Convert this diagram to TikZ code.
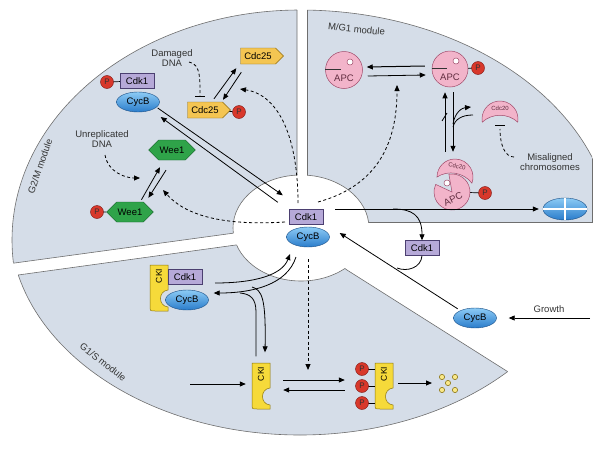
\documentclass[tikz,border=0pt]{standalone}
\usepackage{fontspec}
\setmainfont{Liberation Sans}
\usetikzlibrary{shapes.geometric,shapes.symbols,arrows.meta,calc}
\definecolor{modf}{HTML}{D5DDE8}
\definecolor{modl}{HTML}{6E6E6E}
\definecolor{cdkf}{HTML}{B6A9D8}
\definecolor{cdkl}{HTML}{4B3F70}
\definecolor{cycA}{HTML}{8CCBF5}
\definecolor{cycB}{HTML}{2A7CCB}
\definecolor{cycl}{HTML}{1B4F86}
\definecolor{pf}{HTML}{D8382B}
\definecolor{pl}{HTML}{7A1410}
\definecolor{c25f}{HTML}{F4C552}
\definecolor{c25l}{HTML}{8C6A14}
\definecolor{weef}{HTML}{2FA349}
\definecolor{weel}{HTML}{0F5A22}
\definecolor{apcf}{HTML}{F2B4CA}
\definecolor{apcl}{HTML}{A04A6A}
\definecolor{ckif}{HTML}{F6DA3A}
\definecolor{ckil}{HTML}{8A7410}
\begin{document}
\begin{tikzpicture}[x=1pt,y=-1pt,
  modfill/.style={fill=modf},
  modline/.style={draw=modl,line width=0.6pt},
  lab/.style={font=\fontsize{9.5}{10.5}\selectfont,text=black!80,inner sep=1pt},
  cdk/.style={draw=cdkl,fill=cdkf,minimum width=34pt,minimum height=15pt,inner sep=0pt,font=\fontsize{9.5}{10}\selectfont},
  cyc/.style={ellipse,draw=cycl,top color=cycA,bottom color=cycB,minimum width=43pt,minimum height=20pt,inner sep=0pt,font=\fontsize{9.5}{10}\selectfont},
  P/.style={circle,draw=pl,fill=pf,minimum size=13pt,inner sep=0pt,font=\fontsize{8}{8}\selectfont,text=black!80},
  c25/.style={signal,signal to=east,signal from=nowhere,draw=c25l,fill=c25f,minimum width=43pt,minimum height=16pt,inner sep=1pt,font=\fontsize{9.5}{10}\selectfont},
  wee/.style={signal,signal to=east and west,draw=weel,fill=weef,minimum width=40pt,minimum height=20pt,inner sep=1pt,font=\fontsize{9.5}{10}\selectfont},
  apc/.style={draw=apcl,fill=apcf,line width=0.5pt},
  cki/.style={draw=ckil,fill=ckif,line width=0.5pt},
  arr/.style={-{Triangle[length=6pt,width=5pt]},line width=0.8pt},
  plain/.style={line width=0.8pt},
  darr/.style={-{Triangle[length=6pt,width=5pt]},line width=0.8pt,dash pattern=on 3pt off 2.5pt},
  dsh/.style={line width=0.8pt,dash pattern=on 3pt off 2.5pt},
  ckipic/.pic={
    \filldraw[cki] (-9,-23) -- (9,-23) -- (9,2) .. controls (-1,3) and (-1,18) .. (9,19) -- (9,23) -- (-4,23) .. controls (-9,23) .. (-9,18) -- cycle;
    \node[rotate=90,font=\fontsize{8.5}{9}\selectfont,inner sep=0pt] at (0,-12) {CKI};
  }]
\useasboundingbox (0,0) rectangle (600,450);
% ---------- modules
\begin{scope}
  \clip (0,0) -- (297,0) -- (297,224.5) -- (0,265) -- cycle;
  \fill[modfill] (300,240) ellipse [x radius=288pt,y radius=230pt];
  \draw[modline] (300,240) ellipse [x radius=288pt,y radius=230pt];
\end{scope}
\begin{scope}
  \clip (300,240) ellipse [x radius=288pt,y radius=230pt];
  \draw[modline] (297,0) -- (297,224.5) -- (0,265);
\end{scope}
\begin{scope}
  \clip (307,0) -- (592,0) -- (592,222) -- (307,222) -- cycle;
  \fill[modfill] (300,240) ellipse [x radius=313pt,y radius=230pt];
  \draw[modline] (300,240) ellipse [x radius=313pt,y radius=230pt];
\end{scope}
\begin{scope}
  \clip (300,240) ellipse [x radius=313pt,y radius=230pt];
  \draw[modline] (307,0) -- (307,222) -- (592,222) -- (592,0);
\end{scope}
\begin{scope}
  \clip (0,277.5) -- (301,236) -- (347,270) -- (600,430) -- (600,450) -- (0,450) -- cycle;
  \fill[modfill] (300,225) ellipse [x radius=290pt,y radius=210pt];
  \draw[modline] (300,225) ellipse [x radius=290pt,y radius=210pt];
\end{scope}
\begin{scope}
  \clip (300,225) ellipse [x radius=290pt,y radius=210pt];
  \draw[modline] (0,277.5) -- (301,236) -- (347,270) -- (600,430);
\end{scope}
\fill[white] (301,228) ellipse [x radius=68pt,y radius=53pt];
\begin{scope}
  \clip (0,0) -- (297,0) -- (297,224.5) -- (0,265) -- cycle;
  \draw[modline] (301,228) ellipse [x radius=68pt,y radius=53pt];
\end{scope}
\begin{scope}
  \clip (307,0) -- (592,0) -- (592,222) -- (307,222) -- cycle;
  \draw[modline] (301,228) ellipse [x radius=68pt,y radius=53pt];
\end{scope}
\begin{scope}
  \clip (0,277.5) -- (301,236) -- (347,270) -- (600,430) -- (600,450) -- (0,450) -- cycle;
  \draw[modline] (301,228) ellipse [x radius=68pt,y radius=53pt];
\end{scope}
% module labels
\node[lab,rotate=71] (g2mlab) at (40,166) {G2/M module};
\node[lab,rotate=-6,anchor=west] (mg1lab) at (327,26) {M/G1 module};
\node[lab,rotate=-38] (g1slab) at (103,362) {G1/S module};
% ---------- centre
\node[cdk] (ck) at (306,217) {Cdk1};
\node[cyc] (cc) at (308,237) {CycB};
% ---------- G2/M
\node[cdk] (gk) at (137,81) {Cdk1};
\node[cyc] (gc) at (138,102) {CycB};
\node[P] (gp) at (107,82) {P};
\draw[line width=0.7pt] (gp) -- (gk);
\node[lab,align=center] (dd) at (172,58) {Damaged\\DNA};
\node[c25] (c25a) at (258,56) {Cdc25};
\node[c25] (c25b) at (205,110) {Cdc25};
\node[P] (c25p) at (239,112) {P};
\draw[line width=0.7pt] (c25b) -- (c25p);
\coordinate (ddbar) at (200,96);
\draw[dsh] (189,62) .. controls (201,64) and (200,80) .. (ddbar);
\draw[line width=0.8pt] ($(ddbar)+(-5,0)$) -- ($(ddbar)+(5,0)$);
\draw[arr] ($(c25b.north)+(9,-3)$) -- ($(c25a.south west)+(-4,4)$);
\draw[arr] ($(c25a.south west)+(1,8)$) -- ($(c25b.north)+(18,-2)$);
\draw[darr] (298,203) .. controls (298,140) and (280,95) .. (240,89);
\draw[arr] ($(gc.east)+(-2,6)$) -- ($(ck.north west)+(-6,-14)$);
\draw[arr] ($(ck.north west)+(-11,-7)$) -- ($(gc.east)+(1,15)$);
\node[lab,align=center] (ud) at (102,139) {Unreplicated\\DNA};
\node[wee] (w1) at (172,150) {Wee1};
\node[wee] (w2) at (130,212) {Wee1};
\node[P] (wp) at (97,212) {P};
\draw[line width=0.7pt] (wp) -- (w2);
\draw[darr] (105,155) .. controls (108,172) and (125,178) .. (140,178);
\draw[arr] ($(w2.north east)+(-2,-2)$) -- ($(w1.south)+(-12,7)$);
\draw[arr] ($(w1.south)+(-6,10)$) -- ($(w2.north east)+(5,-4)$);
\draw[darr] (285,222) .. controls (222,226) and (185,215) .. (163,190);
% ---------- M/G1
\node[circle,apc,minimum size=37pt,inner sep=0pt] (apc1) at (344,70) {};
\node[circle,apc,minimum size=36pt,inner sep=0pt] (apc2) at (450,69) {};
\foreach \a in {apc1,apc2}{
  \draw[fill=white,draw=apcl,line width=0.5pt] ($(\a)+(6,-8)$) circle (3);
  \draw[line width=0.9pt,black!80] ($(\a.west)+(0,-1)$) -- ($(\a)+(-3,-1)$);
  \node[font=\fontsize{9.5}{10}\selectfont,text=apcl!60!black,inner sep=0pt] at ($(\a)+(0,8)$) {APC};
}
\node[P] (ap2) at (478,68) {P};
\draw[line width=0.7pt] (apc2) -- (ap2);
\draw[arr,line width=1pt] ($(apc2.west)+(-7,-3)$) -- ($(apc1.east)+(4,-3)$);
\draw[arr] ($(apc1.east)+(5,6)$) -- ($(apc2.west)+(-6,6)$);
\coordinate (pc) at (452,192);
\node[P] (ap3) at (485,193) {P};
\draw[line width=0.7pt] (pc) -- (ap3);
\filldraw[apc] (pc) -- ($(pc)+(-100:18)$) arc[start angle=-100,end angle=205,radius=18] -- cycle;
\node[circle,minimum size=36pt,inner sep=0pt] (apc3) at (pc) {};
\draw[fill=white,draw=apcl,line width=0.5pt] ($(pc)+(-5,-9)$) circle (3);
\node[font=\fontsize{9.5}{10}\selectfont,text=apcl!60!black,inner sep=0pt,rotate=25] at ($(pc)+(1,7)$) {APC};
\coordinate (cd2) at (455,177);
\begin{scope}[shift={(cd2)},rotate=-10]
\filldraw[apc] (170:18) arc[start angle=170,end angle=370,radius=18] .. controls (8,-6) and (-8,-6) .. cycle;
\node[font=\fontsize{6}{6}\selectfont,text=apcl!60!black,inner sep=0pt,rotate=-10] at (0,-11) {Cdc20};
\end{scope}
\coordinate (cd1) at (500,119);
\filldraw[apc] ($(cd1)+(170:18)$) arc[start angle=170,end angle=370,radius=18] .. controls ($(cd1)+(8,-6)$) and ($(cd1)+(-8,-6)$) .. cycle;
\node[font=\fontsize{6}{6}\selectfont,text=apcl!60!black,inner sep=0pt] (cdc20) at ($(cd1)+(0,-11)$) {Cdc20};
\draw[arr] ($(apc3.north)+(-7,-22)$) -- ($(apc2.south)+(-5,5)$);
\draw[arr] ($(apc2.south)+(3,5)$) -- ($(apc3.north)+(1,-22)$);
\draw[arr] (453,124) .. controls (455,112) and (462,108) .. (471,107);
\draw[plain] (473,115) .. controls (462,115) and (455,119) .. (453,127);
\draw[plain] (442,121) -- (447,113);
\node[lab,align=center] (mis) at (550,162) {Misaligned\\chromosomes};
\draw[dsh] (514,157) .. controls (505,157) and (500,145) .. (500,129);
\draw[line width=0.8pt] (495,125) -- (505,125);
\draw[darr] (318,202) .. controls (380,185) and (397,140) .. (397,85);
\node[ellipse,draw=cycl,top color=cycA,bottom color=cycB,minimum width=44pt,minimum height=22pt,inner sep=0pt] (nuc) at (565,209) {};
\draw[white,line width=1.2pt] (nuc.north) -- (nuc.south) (nuc.west) -- (nuc.east);
\draw[arr] ($(ck.east)+(12,-8)$) -- ($(nuc.west)+(-4,0)$);
\node[cdk] (fk) at (422,248) {Cdk1};
\draw[arr] (393,209) .. controls (412,209) and (422,215) .. (fk.north);
\draw[plain] (fk.south) .. controls (421,268) and (407,272) .. (397,268);
\node[cyc] (gr) at (475,318) {CycB};
\draw[arr] ($(gr.north west)+(-2,-2)$) -- ($(cc.east)+(10,-4)$);
\node[lab] (growth) at (549,309) {Growth};
\draw[arr] (590,318) -- ($(gr.east)+(12,0)$);
% ---------- G1/S
\pic at (159,288) {ckipic};
\node[minimum width=18pt,minimum height=47pt,inner sep=0pt] (k1) at (159,288) {};
\node[cdk] (sk) at (185,277) {Cdk1};
\node[cyc] (sc) at (187,300) {CycB};
\pic at (261,386) {ckipic};
\node[minimum width=18pt,minimum height=47pt,inner sep=0pt] (k2) at (261,386) {};
\pic at (384,386) {ckipic};
\node[minimum width=18pt,minimum height=47pt,inner sep=0pt] (k3) at (384,386) {};
\foreach \yy/\nm in {369/pa,386/pb,403/pc3}{
  \draw[line width=0.7pt] (362,\yy) -- (k3.west|-{(0,\yy)});
  \node[P] (\nm) at (362,\yy) {P};
}
\draw[arr] (215,283) .. controls (255,283) and (282,275) .. (290,254);
\draw[arr] (296,257) .. controls (287,285) and (252,293) .. ($(sc.east)+(5,-7)$);
\draw[arr] (252,287) .. controls (262,290) and (266,298) .. ($(k2.north)+(4,-10)$);
\draw[plain] ($(k2.north)+(-5,-6)$) -- (256,312) .. controls (256,298) and (250,294) .. (240,293);
\draw[arr] (190,384) -- ($(k2.west)+(-6,-2)$);
\draw[arr] ($(k2.east)+(13,-6)$) -- ($(k3.west)+(-30,-6)$);
\draw[arr] ($(k3.west)+(-30,4)$) -- ($(k2.east)+(13,4)$);
\draw[darr,line width=1pt] ($(cc.south)+(0,12)$) -- (308,370);
\draw[arr] ($(k3.east)+(5,-3)$) -- (432,383);
\foreach \p in {(442,377),(455,377),(448,383),(442,390),(455,390)}
  \draw[draw=ckil,fill=ckif!60!white,line width=0.6pt] \p circle (2.6);
\end{tikzpicture}
\end{document}
